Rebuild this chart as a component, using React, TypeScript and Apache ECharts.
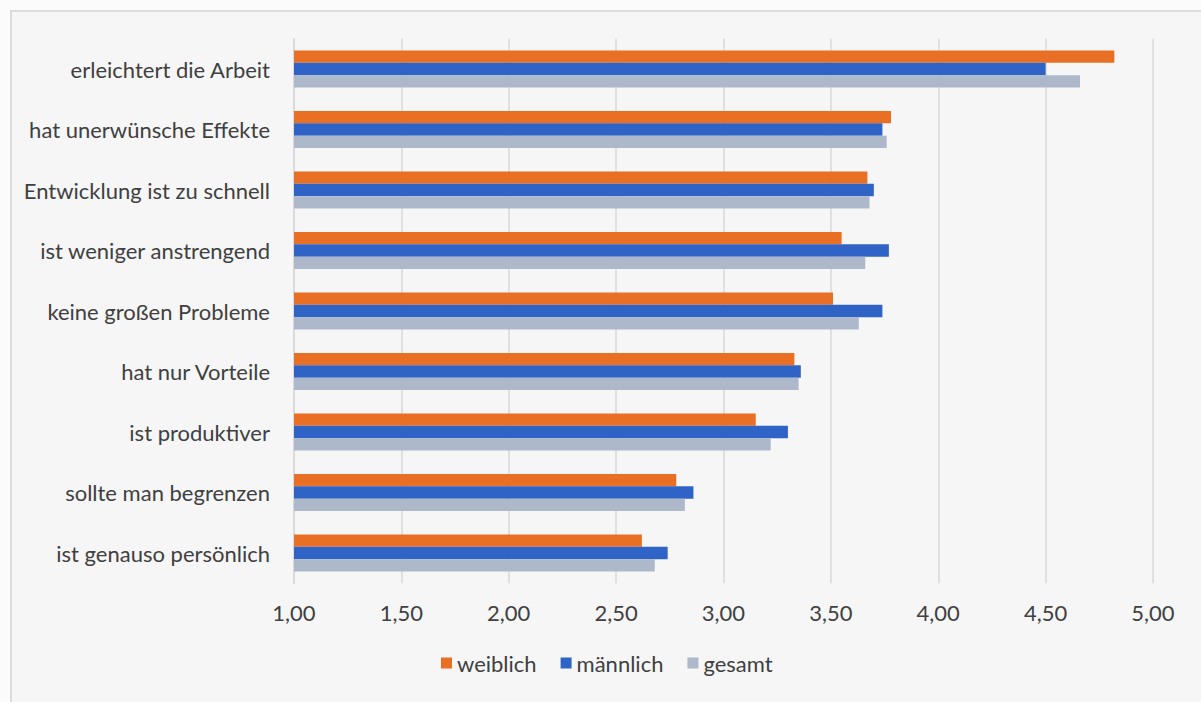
import React, { useEffect, useRef } from "react";
import * as echarts from "echarts";

const categories = [
  "erleichtert die Arbeit",
  "hat unerwünsche Effekte",
  "Entwicklung ist zu schnell",
  "ist weniger anstrengend",
  "keine großen Probleme",
  "hat nur Vorteile",
  "ist produktiver",
  "sollte man begrenzen",
  "ist genauso persönlich",
];

const weiblich = [4.82, 3.78, 3.67, 3.55, 3.51, 3.33, 3.15, 2.78, 2.62];
const maennlich = [4.5, 3.74, 3.7, 3.77, 3.74, 3.36, 3.3, 2.86, 2.74];
const gesamt = [4.66, 3.76, 3.68, 3.66, 3.63, 3.35, 3.22, 2.82, 2.68];

const seriesNames = ["weiblich", "männlich", "gesamt"];
const colors = ["#E86F24", "#3063C6", "#ADB9CB"];

const FONT = "Lato, 'Noto Sans', sans-serif";
const TEXT = "#404040";

export default function App() {
  const ref = useRef<HTMLDivElement>(null);

  useEffect(() => {
    document.body.style.margin = "0";
    if (!ref.current) return;
    const chart = echarts.init(ref.current, undefined, { renderer: "svg" });
    const datasets = [weiblich, maennlich, gesamt];
    chart.setOption({
      animation: false,
      backgroundColor: "#fbfbfb",
      graphic: [
        {
          type: "rect",
          shape: { x: 11, y: 11, width: 1210, height: 710 },
          style: { fill: "#f6f6f6", stroke: "#dcdcdc", lineWidth: 2 },
          z: -10,
          silent: true,
        },
      ],
      textStyle: { fontFamily: FONT },
      grid: { left: 294, right: 48, top: 38.75, bottom: 118.75, containLabel: false },
      legend: {
        data: seriesNames,
        left: 436,
        top: 647,
        itemWidth: 11,
        itemHeight: 11,
        itemGap: 24,
        icon: "rect",
        textStyle: { fontSize: 22, color: TEXT, fontFamily: FONT },
      },
      xAxis: {
        type: "value",
        min: 1,
        max: 5,
        interval: 0.5,
        axisLine: { show: false },
        axisTick: { show: false },
        splitLine: { lineStyle: { color: "#d9d9d9", width: 1.5 } },
        axisLabel: {
          margin: 18,
          fontSize: 22,
          color: TEXT,
          fontFamily: FONT,
          formatter: (v: number) => v.toFixed(2).replace(".", ","),
        },
      },
      yAxis: {
        type: "category",
        inverse: true,
        data: categories,
        axisLine: { show: true, lineStyle: { color: "#d9d9d9", width: 1.5 } },
        axisTick: { show: false },
        axisLabel: {
          margin: 24,
          fontSize: 22,
          color: TEXT,
          fontFamily: FONT,
          padding: [0, 0, 4, 0],
        },
      },
      series: seriesNames.map((name, i) => ({
        name,
        type: "bar",
        data: datasets[i],
        barGap: "0%",
        barCategoryGap: "39%",
        itemStyle: { color: colors[i] },
      })),
    });
    return () => chart.dispose();
  }, []);

  return (
    <div
      ref={ref}
      style={{ position: "absolute", left: 0, top: 0, width: 1201, height: 702 }}
    />
  );
}
